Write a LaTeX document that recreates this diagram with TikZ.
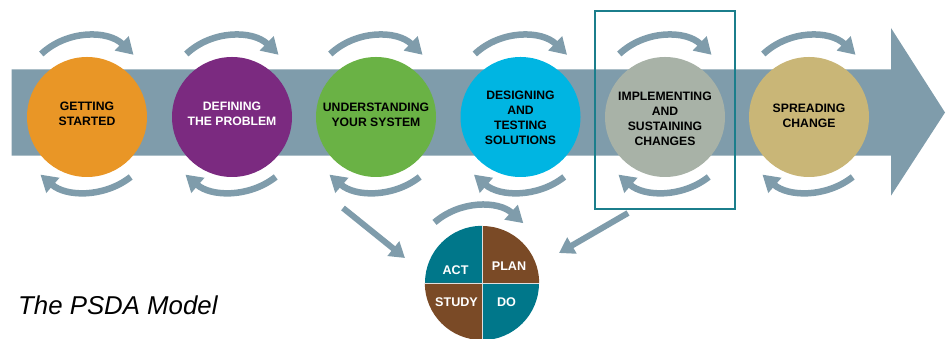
\documentclass[tikz,border=0pt]{standalone}
\usepackage{fontspec}
\setmainfont{Liberation Sans}
\usetikzlibrary{arrows.meta,calc}
\definecolor{bandblue}{HTML}{7F9CAB}
\definecolor{cOrange}{HTML}{E99626}
\definecolor{cPurple}{HTML}{7B2A80}
\definecolor{cGreen}{HTML}{6AB245}
\definecolor{cCyan}{HTML}{00B5E2}
\definecolor{cSage}{HTML}{A8B2A7}
\definecolor{cTan}{HTML}{C9B677}
\definecolor{cTeal}{HTML}{00778A}
\definecolor{cBrown}{HTML}{7A4A26}
\definecolor{boxTeal}{HTML}{1B7E8C}
\begin{document}
\begin{tikzpicture}[x=1pt,y=1pt,
  stage/.style={circle,minimum size=120pt,inner sep=0pt,draw=none},
  stagetext/.style={inner sep=0pt,align=center,font=\fontsize{12.2}{15}\selectfont\bfseries},
  cyc/.style={draw=bandblue,line width=6.5pt,-{Triangle[length=16.5pt,width=19pt]}},
  link/.style={draw=bandblue,line width=6pt,-{Triangle[length=15pt,width=18pt]}},
  quad/.style={inner sep=0pt,text=white,font=\fontsize{12.6}{15}\selectfont\bfseries},
]
\useasboundingbox (0,0) rectangle (950,339);

% main process arrow
\fill[bandblue] (11.7,269.7) -- (891,269.7) -- (891,311) -- (945,226.5)
  -- (891,143.3) -- (891,183.3) -- (11.7,183.3) -- cycle;

% stage circles
\node[stage,fill=cOrange] (s1) at (87,222) {};
\node[stage,fill=cPurple] (s2) at (232,222) {};
\node[stage,fill=cGreen]  (s3) at (376,222) {};
\node[stage,fill=cCyan]   (s4) at (520.5,222) {};
\node[stage,fill=cSage]   (s5) at (665,222) {};
\node[stage,fill=cTan]    (s6) at (809,222) {};

% cycling arrows above and below each stage
\foreach \s in {s1,s2,s3,s4,s5,s6}{
  \draw[cyc] ($(\s)+(0,14)+(133:67pt)$) arc[start angle=133,end angle=46,radius=67pt];
  \draw[cyc] ($(\s)+(0,-4)+(-52:71pt)$) arc[start angle=-52,end angle=-131,radius=71pt];
}

% stage labels
\node[stagetext] (t1) at (87,225.3) {GETTING\\STARTED};
\node[stagetext,text=white] (t2) at (232,225.3) {DEFINING\\THE PROBLEM};
\node[stagetext] (t3) at (376,224) {UNDERSTANDING\\YOUR SYSTEM};
\node[stagetext] (t4) at (520.5,221.5) {DESIGNING\\AND\\TESTING\\SOLUTIONS};
\node[stagetext] (t5) at (665,220) {IMPLEMENTING\\AND\\SUSTAINING\\CHANGES};
\node[stagetext] (t6) at (809,223) {SPREADING\\CHANGE};

% frame around the implementing stage
\node[draw=boxTeal,line width=2pt,inner sep=0pt,minimum width=140pt,minimum height=198.3pt] (frame) at (665,229.15) {};

% PDSA cycle
\node[circle,minimum size=114pt,inner sep=0pt] (pdsa) at (482,56) {};
\fill[cTeal]  (pdsa.center) -- (pdsa.north) arc[start angle=90,end angle=180,radius=57pt] -- cycle;
\fill[cBrown] (pdsa.center) -- (pdsa.east) arc[start angle=0,end angle=90,radius=57pt] -- cycle;
\fill[cBrown] (pdsa.center) -- (pdsa.west) arc[start angle=180,end angle=270,radius=57pt] -- cycle;
\fill[cTeal]  (pdsa.center) -- (pdsa.south) arc[start angle=270,end angle=360,radius=57pt] -- cycle;
\draw[white!75!gray,line width=0.8pt] (pdsa.north) -- (pdsa.south) (pdsa.west) -- (pdsa.east);
\node[quad] (act)   at (455.5,69.3) {ACT};
\node[quad] (plan)  at (509,72.7)   {PLAN};
\node[quad] (study) at (456.5,37.3) {STUDY};
\node[quad] (do)    at (506.5,37.3) {DO};
\draw[cyc] ($(pdsa)+(-3.5,10)+(131:67pt)$) arc[start angle=131,end angle=48,radius=67pt];

% links into the PDSA cycle
\coordinate (la) at (343,131);
\coordinate (lb) at (405,81);
\coordinate (ra) at (628,126);
\coordinate (rb) at (559,86);
\draw[link] (la) -- (lb);
\draw[link] (ra) -- (rb);

% title
\node[anchor=base west,inner sep=0pt,font=\fontsize{25.8}{30}\selectfont\itshape] (title) at (18,24) {The PSDA Model};
\end{tikzpicture}
\end{document}
